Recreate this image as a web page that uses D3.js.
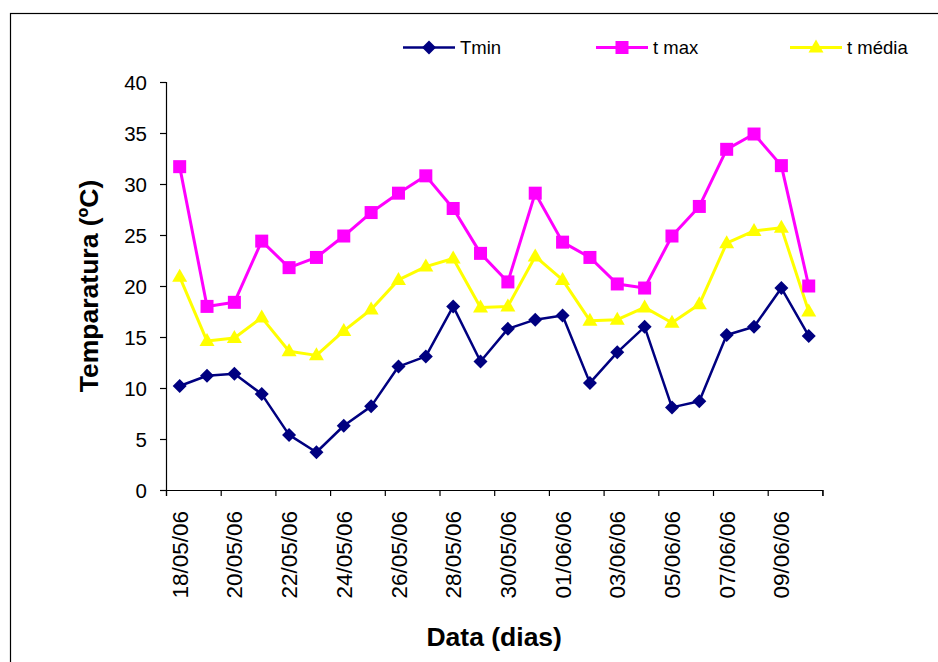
<!DOCTYPE html>
<html>
<head>
<meta charset="utf-8">
<script src="https://cdn.jsdelivr.net/npm/d3@7"></script>
<style>
  html, body { margin: 0; padding: 0; background: #fff; }
  svg { display: block; }
  text { font-family: "Liberation Sans", Arial, sans-serif; fill: #000; }
</style>
</head>
<body>
<svg id="chart" width="938" height="662"></svg>
<script>
const dates = ["18/05/06","19/05/06","20/05/06","21/05/06","22/05/06","23/05/06","24/05/06","25/05/06",
  "26/05/06","27/05/06","28/05/06","29/05/06","30/05/06","31/05/06","01/06/06","02/06/06",
  "03/06/06","04/06/06","05/06/06","06/06/06","07/06/06","08/06/06","09/06/06","10/06/06"];
const tmin = [10.2, 11.2, 11.4, 9.4, 5.4, 3.7, 6.3, 8.2, 12.1, 13.1, 18.0, 12.6,
  15.8, 16.7, 17.1, 10.5, 13.5, 16.0, 8.1, 8.7, 15.2, 16.0, 19.8, 15.1];
const tmax = [31.7, 18.0, 18.4, 24.4, 21.8, 22.8, 24.9, 27.2, 29.1, 30.8, 27.6, 23.2,
  20.4, 29.1, 24.3, 22.8, 20.2, 19.8, 24.9, 27.8, 33.4, 34.9, 31.8, 20.0];
const tmedia = [20.9, 14.6, 14.9, 16.9, 13.6, 13.2, 15.6, 17.7, 20.6, 21.9, 22.7, 17.9,
  18.0, 22.9, 20.6, 16.6, 16.7, 17.9, 16.4, 18.2, 24.2, 25.4, 25.7, 17.5];
const yTicks = [0, 5, 10, 15, 20, 25, 30, 35, 40];
const seriesNames = ["Tmin", "t max", "t média"];
const seriesColors = ["#000080", "#FF00FF", "#FFFF00"];
const seriesData = [tmin, tmax, tmedia];

const svg = d3.select("#chart");

// outer frame
svg.append("rect").attr("x", 10.5).attr("y", 13.5).attr("width", 960).attr("height", 700)
  .attr("fill", "none").attr("stroke", "#000").attr("stroke-width", 1.2);

const plotL = 166, plotR = 822.4, plotT = 82, plotB = 490;
const x = d3.scaleBand().domain(dates).range([plotL, plotR]).padding(0);
const xIdx = d3.scaleLinear().domain([0, dates.length]).range([plotL, plotR]);
const y = d3.scaleLinear().domain([0, 40]).range([plotB, plotT]);

// y axis
const yAxis = d3.axisLeft(y).tickValues(yTicks).tickSize(6).tickFormat(d3.format("d"));
const gy = svg.append("g").attr("transform", `translate(${plotL},0)`).call(yAxis);
gy.select(".domain").attr("stroke", "#000").attr("stroke-width", 1.2);
gy.selectAll(".tick line").attr("stroke", "#000").attr("stroke-width", 1.2);
gy.selectAll(".tick text").attr("x", -19).attr("dy", "0.36em")
  .style("font-size", "20.5px").attr("font-family", "Liberation Sans, Arial, sans-serif");

// x axis (ticks between categories every 2)
const xTickVals = d3.range(0, dates.length + 1, 2);
const xAxis = d3.axisBottom(xIdx).tickValues(xTickVals).tickSize(6).tickFormat("");
const gx = svg.append("g").attr("transform", `translate(0,${plotB})`).call(xAxis);
gx.select(".domain").attr("stroke", "#000").attr("stroke-width", 1.2);
gx.selectAll(".tick line").attr("stroke", "#000").attr("stroke-width", 1.2);

// x labels (every other date), rotated
const labelDates = dates.filter((d, i) => i % 2 === 0);
svg.append("g").selectAll("text").data(labelDates).join("text")
  .attr("transform", d => `translate(${x(d) + x.bandwidth() / 2},${plotB + 21}) rotate(-90)`)
  .attr("text-anchor", "end")
  .attr("dy", "0.36em")
  .style("font-size", "22.5px")
  .text(d => d);

// axis titles
svg.append("text")
  .attr("transform", `translate(98,${(plotT + plotB) / 2}) rotate(-90)`)
  .attr("text-anchor", "middle")
  .style("font-size", "26.5px").style("font-weight", "bold")
  .text("Temparatura (ºC)");
svg.append("text")
  .attr("x", (plotL + plotR) / 2).attr("y", 646)
  .attr("text-anchor", "middle")
  .style("font-size", "26.5px").style("font-weight", "bold")
  .text("Data (dias)");

// markers
function marker(sel, type, color) {
  if (type === 0) {
    sel.append("path").attr("d", "M0,-7 L7,0 L0,7 L-7,0 Z").attr("fill", color);
  } else if (type === 1) {
    sel.append("rect").attr("x", -6.5).attr("y", -6.5).attr("width", 13).attr("height", 13).attr("fill", color);
  } else {
    sel.append("path").attr("d", "M0,-8 L7.5,5 L-7.5,5 Z").attr("fill", color);
  }
}

const line = d3.line()
  .x((d, i) => x(dates[i]) + x.bandwidth() / 2)
  .y(d => y(d));

seriesData.forEach((vals, s) => {
  svg.append("path").datum(vals)
    .attr("d", line)
    .attr("fill", "none")
    .attr("stroke", seriesColors[s])
    .attr("stroke-width", s === 0 ? 2.5 : 3)
    .attr("stroke-linejoin", "round");
});
seriesData.forEach((vals, s) => {
  svg.append("g").selectAll("g").data(vals).join("g")
    .attr("transform", (d, i) => `translate(${x(dates[i]) + x.bandwidth() / 2},${y(d)})`)
    .each(function() { marker(d3.select(this), s, seriesColors[s]); });
});

// legend
const legendX = [403, 596, 790];
seriesNames.forEach((name, s) => {
  const g = svg.append("g").attr("transform", `translate(${legendX[s]},47.5)`);
  g.append("line").attr("x1", 0).attr("x2", 52).attr("y1", 0).attr("y2", 0)
    .attr("stroke", seriesColors[s]).attr("stroke-width", s === 0 ? 2.5 : 3);
  const m = g.append("g").attr("transform", "translate(26,0)");
  marker(m, s, seriesColors[s]);
  g.append("text").attr("x", 57).attr("dy", "0.36em")
    .style("font-size", "18.5px").text(name);
});
</script>
</body>
</html>
